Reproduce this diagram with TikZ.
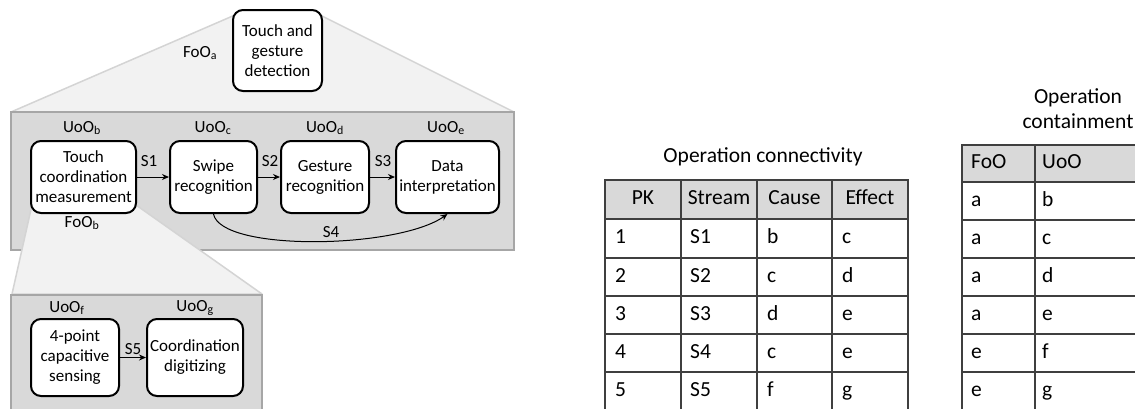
\documentclass[tikz,border=0pt]{standalone}
\usepackage{fontspec}
\setmainfont{Carlito}
\usetikzlibrary{arrows.meta}
\definecolor{gboxfill}{HTML}{D9D9D9}
\definecolor{gboxdraw}{HTML}{A6A6A6}
\definecolor{trapfill}{HTML}{F2F2F2}
\definecolor{trapdraw}{HTML}{D4D4D4}
\definecolor{tlinec}{HTML}{3F3F3F}
\definecolor{hdrfill}{HTML}{D9D9D9}
\begin{document}
\begin{tikzpicture}[x=1pt,y=-1pt,
  box/.style={draw=black, line width=2pt, rounded corners=10pt, fill=white, align=center,
    font=\fontsize{17}{20}\selectfont, inner sep=0pt},
  lbl/.style={font=\fontsize{17}{20}\selectfont, inner sep=1pt},
  flow/.style={-{Stealth[length=7pt,width=6pt]}, line width=1pt},
  trap/.style={fill=trapfill, draw=trapdraw, line width=1.5pt, line join=round},
  gbox/.style={fill=gboxfill, draw=gboxdraw, line width=2.5pt},
  tline/.style={draw=tlinec, line width=1.5pt},
  ttext/.style={font=\fontsize{21.5}{25}\selectfont, inner sep=0pt, text height=15pt, text depth=5pt},
]
\useasboundingbox (0,0) rectangle (1135,408);
\clip (0,0) rectangle (1135,408);
\fill[white] (0,0) rectangle (1135,408);

% zoom-in shapes
\filldraw[trap] (235,15) -- (320,15) -- (514,112) -- (11,112) -- cycle;
\filldraw[gbox] (11,112) rectangle (514,250);
\filldraw[trap] (32,205) -- (136,205) -- (262,294) -- (12,294) -- cycle;
\filldraw[gbox] (11,295) rectangle (262,430);

% operation boxes
\node[box, minimum width=89pt, minimum height=81pt] (a) at (277.5,50.5) {Touch and\\gesture\\detection};
\node[box, minimum width=105pt, minimum height=72pt] (b) at (83.5,177) {Touch\\coordination\\measurement};
\node[box, minimum width=87pt, minimum height=72pt] (c) at (213.5,177) {Swipe\\recognition};
\node[box, minimum width=88pt, minimum height=72pt] (d) at (325,177) {Gesture\\recognition};
\node[box, minimum width=103pt, minimum height=72pt] (e) at (447.5,177) {Data\\interpretation};
\node[box, minimum width=88pt, minimum height=77pt] (f) at (75,357.5) {4-point\\capacitive\\sensing};
\node[box, minimum width=96pt, minimum height=77pt] (g) at (195,357.5) {Coordination\\digitizing};

% labels
\node[lbl] (foa) at (200,53) {FoO\textsubscript{a}};
\node[lbl] (fob) at (82,223) {FoO\textsubscript{b}};
\node[lbl] (uob) at (82,128) {UoO\textsubscript{b}};
\node[lbl] (uoc) at (213,128) {UoO\textsubscript{c}};
\node[lbl] (uod) at (325,128) {UoO\textsubscript{d}};
\node[lbl] (uoe) at (446,128) {UoO\textsubscript{e}};
\node[lbl] (uof) at (67,308) {UoO\textsubscript{f}};
\node[lbl] (uog) at (195,308) {UoO\textsubscript{g}};

% streams
\draw[flow] (b) -- (c);
\draw[flow] (c) -- (d);
\draw[flow] (d) -- (e);
\draw[flow] (f) -- (g);
\draw[flow] (c.south) .. controls (221,252) and (398,249) .. (e.south);
\node[lbl] (s1) at (149,161) {S1};
\node[lbl] (s2) at (270,161) {S2};
\node[lbl] (s3) at (383,161) {S3};
\node[lbl] (s4) at (331,232) {S4};
\node[lbl] (s5) at (133,349) {S5};

% table 1
\node[font=\fontsize{21.5}{25}\selectfont, inner sep=0pt] (t1title) at (763,157) {Operation connectivity};
\fill[hdrfill] (605,180) rectangle (908,219);
\foreach \yy in {180,219,258,296,334,372}
  \draw[tline] (604.25,\yy) -- (908.75,\yy);
\foreach \xx in {605,681,757,832,908}
  \draw[tline] (\xx,179.25) -- (\xx,420);
\node[ttext] (hpk) at (643,199.5) {PK};
\node[ttext] (hst) at (719,199.5) {Stream};
\node[ttext] (hca) at (794.5,199.5) {Cause};
\node[ttext] (hef) at (870,199.5) {Effect};
\foreach \yy/\pk/\s/\ca/\ef in {238.5/1/S1/b/c, 277/2/S2/c/d, 315/3/S3/d/e, 353/4/S4/c/e, 391.5/5/S5/f/g}{
  \node[ttext, anchor=west] (pk\pk) at (615,\yy) {\pk};
  \node[ttext, anchor=west] (st\pk) at (690,\yy) {\s};
  \node[ttext, anchor=west] (ca\pk) at (767,\yy) {\ca};
  \node[ttext, anchor=west] (ef\pk) at (842,\yy) {\ef};
}

% table 2
\node[font=\fontsize{21.5}{25}\selectfont, inner sep=0pt, align=center] (t2title) at (1078,108.5) {Operation\\containment};
\fill[hdrfill] (962,145) rectangle (1145,182);
\foreach \yy in {145,182,220,258,296,334,372}
  \draw[tline] (961.25,\yy) -- (1145,\yy);
\foreach \xx in {962,1035}
  \draw[tline] (\xx,144.25) -- (\xx,420);
\node[ttext, anchor=west] (hfoo) at (971,163.5) {FoO};
\node[ttext, anchor=west] (huoo) at (1042,163.5) {UoO};
\foreach \yy/\i/\fo/\uo in {201/1/a/b, 239/2/a/c, 277/3/a/d, 315/4/a/e, 353/5/e/f, 391.5/6/e/g}{
  \node[ttext, anchor=west] (fo\i) at (971,\yy) {\fo};
  \node[ttext, anchor=west] (uo\i) at (1042,\yy) {\uo};
}
\end{tikzpicture}
\end{document}
